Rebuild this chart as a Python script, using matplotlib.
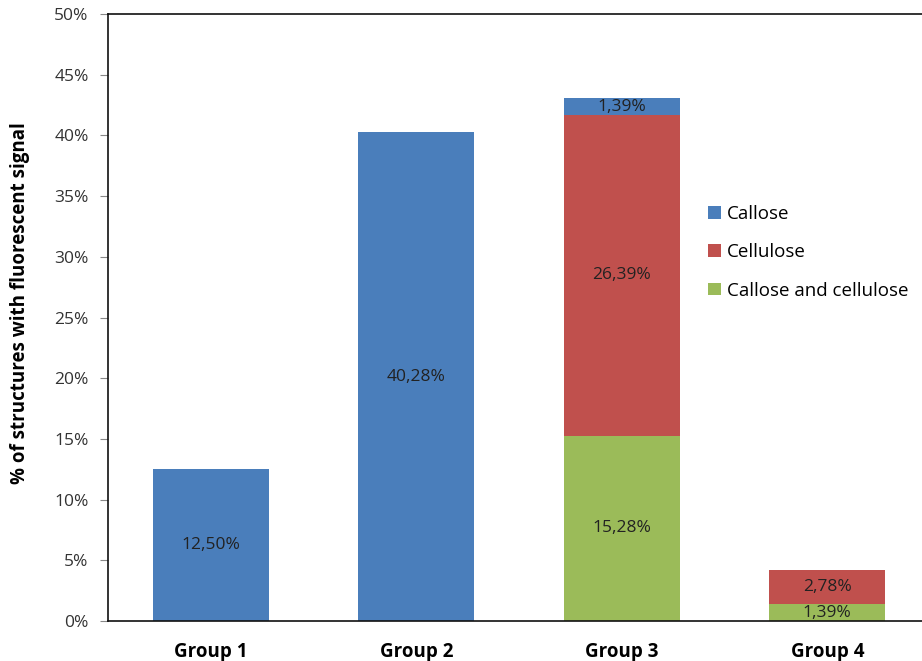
import matplotlib
matplotlib.use("Agg")
import matplotlib.pyplot as plt
import numpy as np

groups = ["Group 1", "Group 2", "Group 3", "Group 4"]
series_names = ["Callose and cellulose", "Cellulose", "Callose"]
both = [0.0, 0.0, 15.28, 1.39]
cellulose = [0.0, 0.0, 26.39, 2.78]
callose = [12.50, 40.28, 1.39, 0.0]
y_ticks = [0, 5, 10, 15, 20, 25, 30, 35, 40, 45, 50]

colors = {"Callose": "#4A7EBB", "Cellulose": "#C0504D", "Callose and cellulose": "#9BBB59"}

plt.rcParams["font.family"] = ["Open Sans", "DejaVu Sans"]

fig = plt.figure(figsize=(9.22, 6.61), dpi=100)
ax = fig.add_axes([108 / 922, 1 - 621 / 661, 822 / 922, (621 - 14) / 661])

x = np.arange(len(groups))
width = 0.565
bottom = np.zeros(len(groups))
handles = {}
for name, vals in zip(series_names, [both, cellulose, callose]):
    vals = np.array(vals)
    bars = ax.bar(x, vals, width, bottom=bottom, color=colors[name], label=name, zorder=2)
    handles[name] = bars
    for xi, v, b in zip(x, vals, bottom):
        if v > 0:
            ax.text(xi, b + v / 2, f"{v:.2f}".replace(".", ",") + "%",
                    ha="center", va="center", fontsize=12.5, color="#222222")
    bottom += vals

ax.set_xlim(-0.5, 3.5)
ax.set_ylim(0, 50)
ax.set_yticks(y_ticks)
ax.set_yticklabels([f"{t}%" for t in y_ticks], fontsize=12.5, color="#333333")
ax.set_xticks(x)
ax.set_xticklabels(groups, fontsize=13.5, fontweight="bold")
ax.tick_params(axis="x", length=0, pad=15)
ax.tick_params(axis="y", length=6, color="#888888", pad=8)
for s in ["left", "bottom", "top", "right"]:
    ax.spines[s].set_color("#111111")
    ax.spines[s].set_linewidth(1.2)

ax.set_ylabel("% of structures with fluorescent signal", fontsize=13.5, fontweight="bold")
ax.yaxis.set_label_coords(-0.095, 0.524)

order = ["Callose", "Cellulose", "Callose and cellulose"]
leg = ax.legend([handles[n] for n in order], order, loc="upper left",
                bbox_to_anchor=(0.71, 0.713), frameon=False, fontsize=13.5,
                handlelength=0.65, handleheight=0.65, handletextpad=0.35,
                labelspacing=1.08)

fig.savefig("out.png", dpi=100)
